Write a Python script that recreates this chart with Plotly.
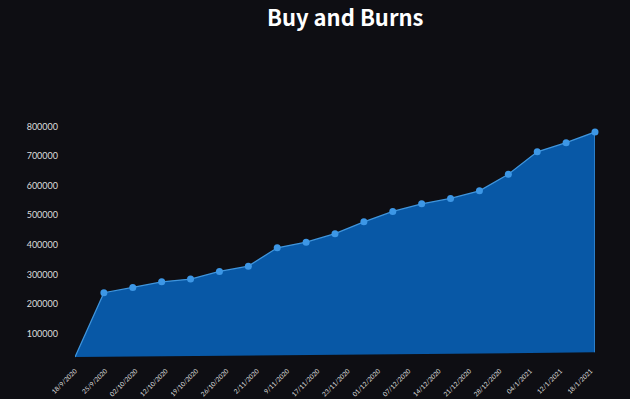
import plotly.graph_objects as go

# ---- data ----
dates = ["18/9/2020", "25/9/2020", "02/10/2020", "12/10/2020", "19/10/2020",
         "26/10/2020", "2/11/2020", "9/11/2020", "17/11/2020", "23/11/2020",
         "01/12/2020", "07/12/2020", "14/12/2020", "21/12/2020", "28/12/2020",
         "04/1/2021", "12/1/2021", "18/1/2021"]
start_value = 20000
values = [238000, 256000, 275000, 284000, 310000, 328000, 390000, 409000,
          438000, 478000, 513000, 539000, 557000, 583000, 639000, 715000,
          746000, 782000]
end_base = 36000
y_ticks = [100000, 200000, 300000, 400000, 500000, 600000, 700000, 800000]

# ---- build ----
n = len(values)
pts_x = list(range(1, n + 1))
poly_x = [0] + pts_x + [n]
poly_y = [start_value] + values + [end_base]

tick_pos = [i * (n - 0.15) / (len(dates) - 1) for i in range(len(dates))]

bg = "#0e0e13"
fig = go.Figure()
fig.add_trace(go.Scatter(
    x=poly_x, y=poly_y, mode="lines", fill="toself",
    fillcolor="#0858a6", line=dict(color="#3f95dd", width=1.3),
    hoverinfo="skip", showlegend=False))
fig.add_trace(go.Scatter(
    x=pts_x, y=values, mode="markers",
    marker=dict(color="#3d97e6", size=7),
    cliponaxis=False, showlegend=False))

fig.update_layout(
    width=630, height=399,
    paper_bgcolor=bg, plot_bgcolor=bg,
    margin=dict(l=75, r=35, t=109, b=36),
    title=dict(text="<b>Buy and Burns</b>", x=0.548, xanchor="center",
               y=0.955, yanchor="middle", yref="container",
               font=dict(family="Noto Sans CJK KR", size=22, color="#ffffff")),
    xaxis=dict(range=[0, n], tickmode="array", tickvals=tick_pos,
               ticktext=dates, tickangle=-45, showgrid=False,
               zeroline=False, showline=False, automargin=False,
               ticks="", ticklabelstandoff=2,
               tickfont=dict(family="Lato", size=6.5, color="#dcdcdc")),
    yaxis=dict(range=[0, 860000], tickmode="array", tickvals=y_ticks,
               ticktext=[str(v) for v in y_ticks], showgrid=False,
               zeroline=False, showline=False, automargin=False,
               ticks="", ticklabelstandoff=16,
               tickfont=dict(family="Lato", size=9, color="#dcdcdc")),
)

fig.write_html(
    "out.html",
    config={"displayModeBar": False},
    post_script=("document.body.style.margin='0';"
                 "document.body.style.background='" + bg + "';"
                 "document.body.style.overflow='hidden';"),
)
